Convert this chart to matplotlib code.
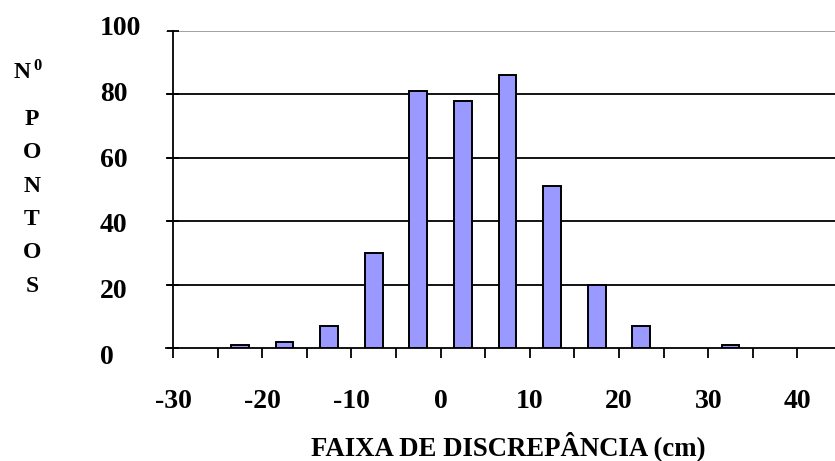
import matplotlib
matplotlib.use("Agg")
import matplotlib.pyplot as plt
from matplotlib.ticker import FixedLocator
from matplotlib.transforms import blended_transform_factory

# Discrepancy classes (cm, bin centres) and number of points in each
bin_centers = [-22.5, -17.5, -12.5, -7.5, -2.5, 2.5, 7.5, 12.5, 17.5, 22.5, 32.5]
counts = [1, 2, 7, 30, 81, 78, 86, 51, 20, 7, 1]

x_ticks = [-30, -20, -10, 0, 10, 20, 30, 40]
x_minor = [-25, -15, -5, 5, 15, 25, 35]
y_ticks = [0, 20, 40, 60, 80, 100]
y_title_letters = ["P", "O", "N", "T", "O", "S"]
x_title = "FAIXA DE DISCREPÂNCIA (cm)"

SERIF = "Liberation Serif"
W, H = 835, 461
fig = plt.figure(figsize=(W / 100, H / 100), dpi=100)
fig.patch.set_facecolor("white")

ax = fig.add_axes([166 / W, 113 / H, 669 / W, 317 / H])
ax.bar(bin_centers, counts, width=2.0, color="#9999FF",
       edgecolor="black", linewidth=1.4, zorder=3)

ax.set_xlim(-30 - 7 / 8.92, -30 + 669 / 8.92 - 7 / 8.92)
ax.set_ylim(0, 100)

for side in ("top", "right"):
    ax.spines[side].set_visible(False)
ax.spines["left"].set_position(("data", -30))
ax.spines["left"].set_linewidth(1.3)
ax.spines["bottom"].set_linewidth(1.3)

ax.xaxis.set_major_locator(FixedLocator(x_ticks))
ax.xaxis.set_minor_locator(FixedLocator(x_minor))
ax.set_xticklabels([str(v) for v in x_ticks], fontfamily=SERIF,
                   fontweight="bold", fontsize=20)
ax.tick_params(axis="x", which="both", direction="out", length=7.2,
               width=1.3, pad=22)

# y ticks: marks crossing the axis, left-aligned labels spread slightly
ax.set_yticks(y_ticks)
ax.set_yticklabels([])
ax.tick_params(axis="y", direction="inout", length=8.6, width=1.3)
label_tr = blended_transform_factory(fig.transFigure, ax.transData)
for v in y_ticks:
    ax.text(100 / W, v + (v - 50) * 0.038 - 1.1, str(v), transform=label_tr,
            fontfamily=SERIF, fontweight="bold", fontsize=20,
            ha="left", va="center", clip_on=False)

ax.set_axisbelow(True)
ax.yaxis.grid(True, color="black", linewidth=1.3)
ax.get_ygridlines()[-1].set_color("#9a9a9a")
ax.get_ygridlines()[0].set_visible(False)

# stacked vertical title "Nº PONTOS"
fig.text(22 / W, 1 - 73 / H, "N", fontfamily=SERIF, fontweight="bold",
         fontsize=17, ha="center", va="center")
fig.text(38 / W, 1 - 66 / H, "0", fontfamily=SERIF, fontweight="bold",
         fontsize=12, ha="center", va="center")
for i, ch in enumerate(y_title_letters):
    fig.text(32 / W, 1 - (119 + 33.5 * i) / H, ch, fontfamily=SERIF,
             fontweight="bold", fontsize=17, ha="center", va="center")

fig.text(508 / W, 1 - 446 / H, x_title, fontfamily=SERIF, fontweight="bold",
         fontsize=19.3, ha="center", va="center")

fig.savefig("out.png", dpi=100)
